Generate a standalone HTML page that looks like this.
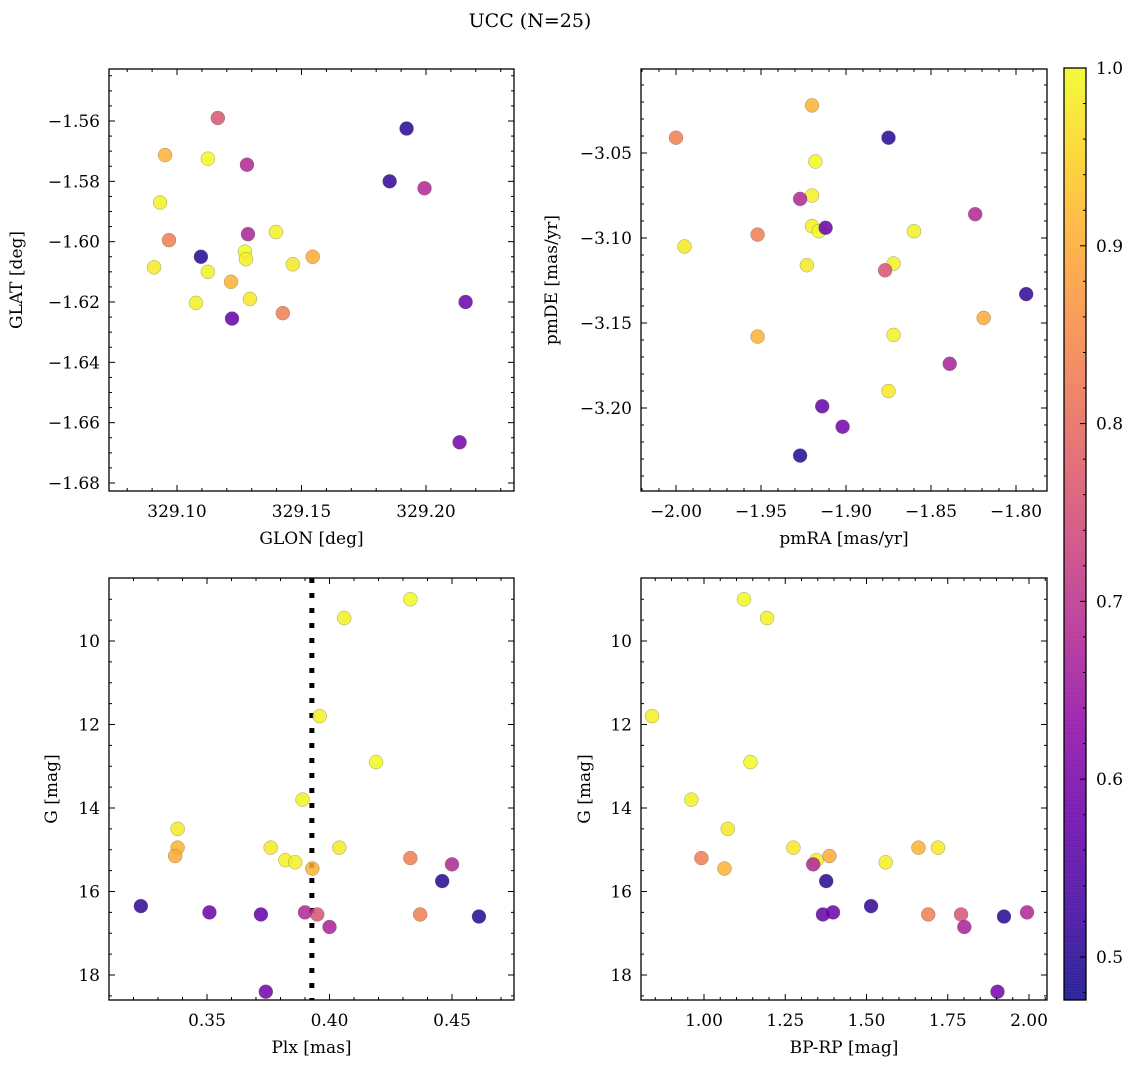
<!DOCTYPE html>
<html><head><meta charset="utf-8"><style>
html,body{margin:0;padding:0;background:#fff;}
svg{display:block;font-family:"DejaVu Serif","Liberation Serif",serif;}
</style></head><body>
<svg id="fig" width="1136" height="1068" viewBox="0 0 1136 1068" xmlns="http://www.w3.org/2000/svg">
<rect width="1136" height="1068" fill="#fff"/>
<text x="530" y="27" font-size="19" text-anchor="middle">UCC (N=25)</text>
</svg>
<script>
// ---- data (one entry per star) ----
const glon = [329.1124,329.0932,329.1397,329.1273,329.1277,329.0908,329.1465,329.1124,329.1076,329.1293,
              329.0952,329.1545,329.1217,329.0968,329.1425,329.1164,329.1281,329.1994,329.1285,
              329.2159,329.1221,329.2135,329.1922,329.1854,329.1096];
const glat = [-1.5725,-1.587,-1.5968,-1.6033,-1.6058,-1.6085,-1.6075,-1.610,-1.6203,-1.619,
              -1.5713,-1.605,-1.6133,-1.5995,-1.6237,-1.559,-1.5745,-1.5823,-1.5975,
              -1.620,-1.6255,-1.6665,-1.5625,-1.580,-1.605];
const pmra = [-1.918,-1.920,-1.920,-1.916,-1.860,-1.995,-1.923,-1.872,-1.872,-1.875,
              -1.920,-1.819,-1.952,-2.000,-1.952,-1.877,-1.927,-1.824,-1.839,
              -1.912,-1.914,-1.902,-1.875,-1.794,-1.927];
const pmde = [-3.055,-3.075,-3.093,-3.096,-3.096,-3.105,-3.116,-3.115,-3.157,-3.190,
              -3.022,-3.147,-3.158,-3.041,-3.098,-3.119,-3.077,-3.086,-3.174,
              -3.094,-3.199,-3.211,-3.041,-3.133,-3.228];
const plx  = [0.433,0.406,0.396,0.419,0.389,0.338,0.376,0.382,0.386,0.404,
              0.338,0.337,0.393,0.433,0.437,0.395,0.450,0.390,0.400,
              0.351,0.372,0.374,0.446,0.323,0.461];
const gmag = [9.0,9.45,11.8,12.9,13.8,14.5,14.95,15.25,15.3,14.95,
              14.95,15.15,15.45,15.2,16.55,16.55,15.35,16.5,16.85,
              16.5,16.55,18.4,15.75,16.35,16.6];
const bprp = [1.123,1.194,0.840,1.143,0.961,1.073,1.275,1.346,1.559,1.720,
              1.660,1.386,1.063,0.992,1.690,1.791,1.336,1.994,1.801,
              1.397,1.366,1.903,1.376,1.514,1.923];
const prob = [1.00,0.99,0.99,1.00,0.99,0.98,0.98,0.99,0.99,0.98,
              0.91,0.90,0.91,0.83,0.83,0.76,0.68,0.68,0.67,
              0.58,0.57,0.59,0.50,0.51,0.50];
const plxMedian = 0.3928;
const cbTicks = [0.5,0.6,0.7,0.8,0.9,1.0];

const NS='http://www.w3.org/2000/svg';
const svg=document.getElementById('fig');
function mk(tag,attrs,parent){const e=document.createElementNS(NS,tag);for(const k in attrs)e.setAttribute(k,attrs[k]);(parent||svg).appendChild(e);return e;}

const stops=[[0.0,13,8,135],[0.1,65,4,157],[0.2,106,0,168],[0.3,143,13,164],[0.4,177,42,144],[0.5,204,71,120],[0.6,225,100,98],[0.7,242,132,75],[0.8,252,166,54],[0.9,252,206,37],[1.0,240,249,33]];
function plasma(t){t=Math.max(0,Math.min(1,t));for(let i=1;i<stops.length;i++){if(t<=stops[i][0]){const a=stops[i-1],b=stops[i],f=(t-a[0])/(b[0]-a[0]);return `rgb(${Math.round(a[1]+f*(b[1]-a[1]))},${Math.round(a[2]+f*(b[2]-a[2]))},${Math.round(a[3]+f*(b[3]-a[3]))})`;}}return 'rgb(240,249,33)';}
const vmin=0.4758,vmax=1.0;
function pcol(p){return plasma((p-vmin)/(vmax-vmin));}

function lin(d0,d1,r0,r1){return v=>r0+(v-d0)*(r1-r0)/(d1-d0);}
function fmt(v,dec){const s=Math.abs(v).toFixed(dec);return (v<-1e-12?'\u2212':'')+s;}

function panel(cfg){
  const g=mk('g',{});
  
  
  const {L,R,T,B}=cfg;
  const xs=lin(cfg.xa[0],cfg.xa[1],cfg.xa[2],cfg.xa[3]);
  const ys=lin(cfg.ya[0],cfg.ya[1],cfg.ya[2],cfg.ya[3]);
  const xinv=p=>cfg.xa[0]+(p-cfg.xa[2])*(cfg.xa[1]-cfg.xa[0])/(cfg.xa[3]-cfg.xa[2]);
  const yinv=p=>cfg.ya[0]+(p-cfg.ya[2])*(cfg.ya[1]-cfg.ya[0])/(cfg.ya[3]-cfg.ya[2]);
  if(cfg.vline!==undefined){
    const l=mk('line',{x1:xs(cfg.vline),x2:xs(cfg.vline),y1:T,y2:B,stroke:'#000','stroke-width':5,'stroke-dasharray':'5 10'},g);
    
    
  }
  for(let i=0;i<cfg.X.length;i++){
    const c=mk('circle',{cx:xs(cfg.X[i]),cy:ys(cfg.Y[i]),r:7,fill:pcol(prob[i]),'fill-opacity':0.85,stroke:'#666','stroke-width':0.5,'stroke-opacity':0.6},g);
    
    
  }
  const tg=mk('g',{stroke:'#000','stroke-width':1},g);
  const xlo=Math.min(xinv(L),xinv(R)),xhi=Math.max(xinv(L),xinv(R));
  const ylo=Math.min(yinv(T),yinv(B)),yhi=Math.max(yinv(T),yinv(B));
  const xm=cfg.xstep/cfg.xdiv, ym=cfg.ystep/cfg.ydiv;
  for(let k=Math.ceil(xlo/xm-1e-6);k*xm<=xhi+1e-9;k++){
    const v=k*xm,p=xs(v);if(p<L+0.5||p>R-0.5)continue;
    const major=Math.abs(Math.round(k/cfg.xdiv)*cfg.xdiv-k)<1e-6;const len=major?6:3;
    mk('line',{x1:p,x2:p,y1:B,y2:B-len},tg);mk('line',{x1:p,x2:p,y1:T,y2:T+len},tg);
    if(major){const t=mk('text',{x:p,y:B+26,'font-size':17,'text-anchor':'middle',stroke:'none'},g);t.textContent=fmt(v,cfg.xdec);
      }
  }
  for(let k=Math.ceil(ylo/ym-1e-6);k*ym<=yhi+1e-9;k++){
    const v=k*ym,p=ys(v);if(p<T+0.5||p>B-0.5)continue;
    const major=Math.abs(Math.round(k/cfg.ydiv)*cfg.ydiv-k)<1e-6;const len=major?6:3;
    mk('line',{x1:L,x2:L+len,y1:p,y2:p},tg);mk('line',{x1:R,x2:R-len,y1:p,y2:p},tg);
    if(major){const t=mk('text',{x:L-9,y:p+6,'font-size':17,'text-anchor':'end',stroke:'none'},g);t.textContent=fmt(v,cfg.ydec);
      }
  }
  const fr=mk('rect',{x:L,y:T,width:R-L,height:B-T,fill:'none',stroke:'#000','stroke-width':1.3},g);
  
  const xl=mk('text',{x:(L+R)/2,y:B+53,'font-size':17,'text-anchor':'middle'},g);xl.textContent=cfg.xlabel;
  
  const yl=mk('text',{x:0,y:0,'font-size':17,'text-anchor':'middle',transform:`translate(${cfg.ylx},${(T+B)/2}) rotate(-90)`},g);yl.textContent=cfg.ylabel;
  
}

panel({name:'glon-glat-panel',L:109,R:514,T:69,B:491,X:glon,Y:glat,
  xa:[329.10,329.20,177,426],ya:[-1.56,-1.68,121,483],xstep:0.05,xdiv:5,ystep:0.02,ydiv:4,xdec:2,ydec:2,
  xlabel:'GLON [deg]',ylabel:'GLAT [deg]',ylx:22});
panel({name:'propermotion-panel',L:641,R:1047,T:69,B:491,X:pmra,Y:pmde,
  xa:[-2.00,-1.80,676,1016],ya:[-3.05,-3.20,153,408],xstep:0.05,xdiv:5,ystep:0.05,ydiv:5,xdec:2,ydec:2,
  xlabel:'pmRA [mas/yr]',ylabel:'pmDE [mas/yr]',ylx:557});
panel({name:'plx-g-panel',L:109,R:514,T:578,B:1000,X:plx,Y:gmag,vline:plxMedian,
  xa:[0.35,0.45,207,452],ya:[10,18,641,975],xstep:0.05,xdiv:5,ystep:2,ydiv:4,xdec:2,ydec:0,
  xlabel:'Plx [mas]',ylabel:'G [mag]',ylx:57});
panel({name:'cmd-panel',L:641,R:1047,T:578,B:1000,X:bprp,Y:gmag,
  xa:[1.00,2.00,704,1029],ya:[10,18,641,975],xstep:0.25,xdiv:5,ystep:2,ydiv:4,xdec:2,ydec:0,
  xlabel:'BP-RP [mag]',ylabel:'G [mag]',ylx:590});

(function(){
  const g=mk('g',{});
  
  
  const L=1064,R=1086,T=68,B=1000;
  const ys=v=>T+(vmax-v)*(B-T)/(vmax-vmin);
  for(let y=T;y<B;y+=2){
    const v=vmax-(y-T+1)*(vmax-vmin)/(B-T);
    mk('rect',{x:L,y:y,width:R-L,height:2.3,fill:pcol(v),'fill-opacity':0.85},g);
  }
  for(let k=Math.ceil(vmin/0.02);k*0.02<=vmax+1e-9;k++){
    const v=k*0.02,p=ys(v);if(p<T+0.5||p>B-0.5)continue;
    const major=k%5===0;
    mk('line',{x1:R,x2:R-(major?6:3),y1:p,y2:p,stroke:'#000','stroke-width':1},g);
  }
  cbTicks.forEach(v=>{const t=mk('text',{x:R+10,y:ys(v)+6,'font-size':17},g);t.textContent=v.toFixed(1);
    });
  mk('rect',{x:L,y:T,width:R-L,height:B-T,fill:'none',stroke:'#000','stroke-width':1.3},g);
})();
</script>
</body></html>
